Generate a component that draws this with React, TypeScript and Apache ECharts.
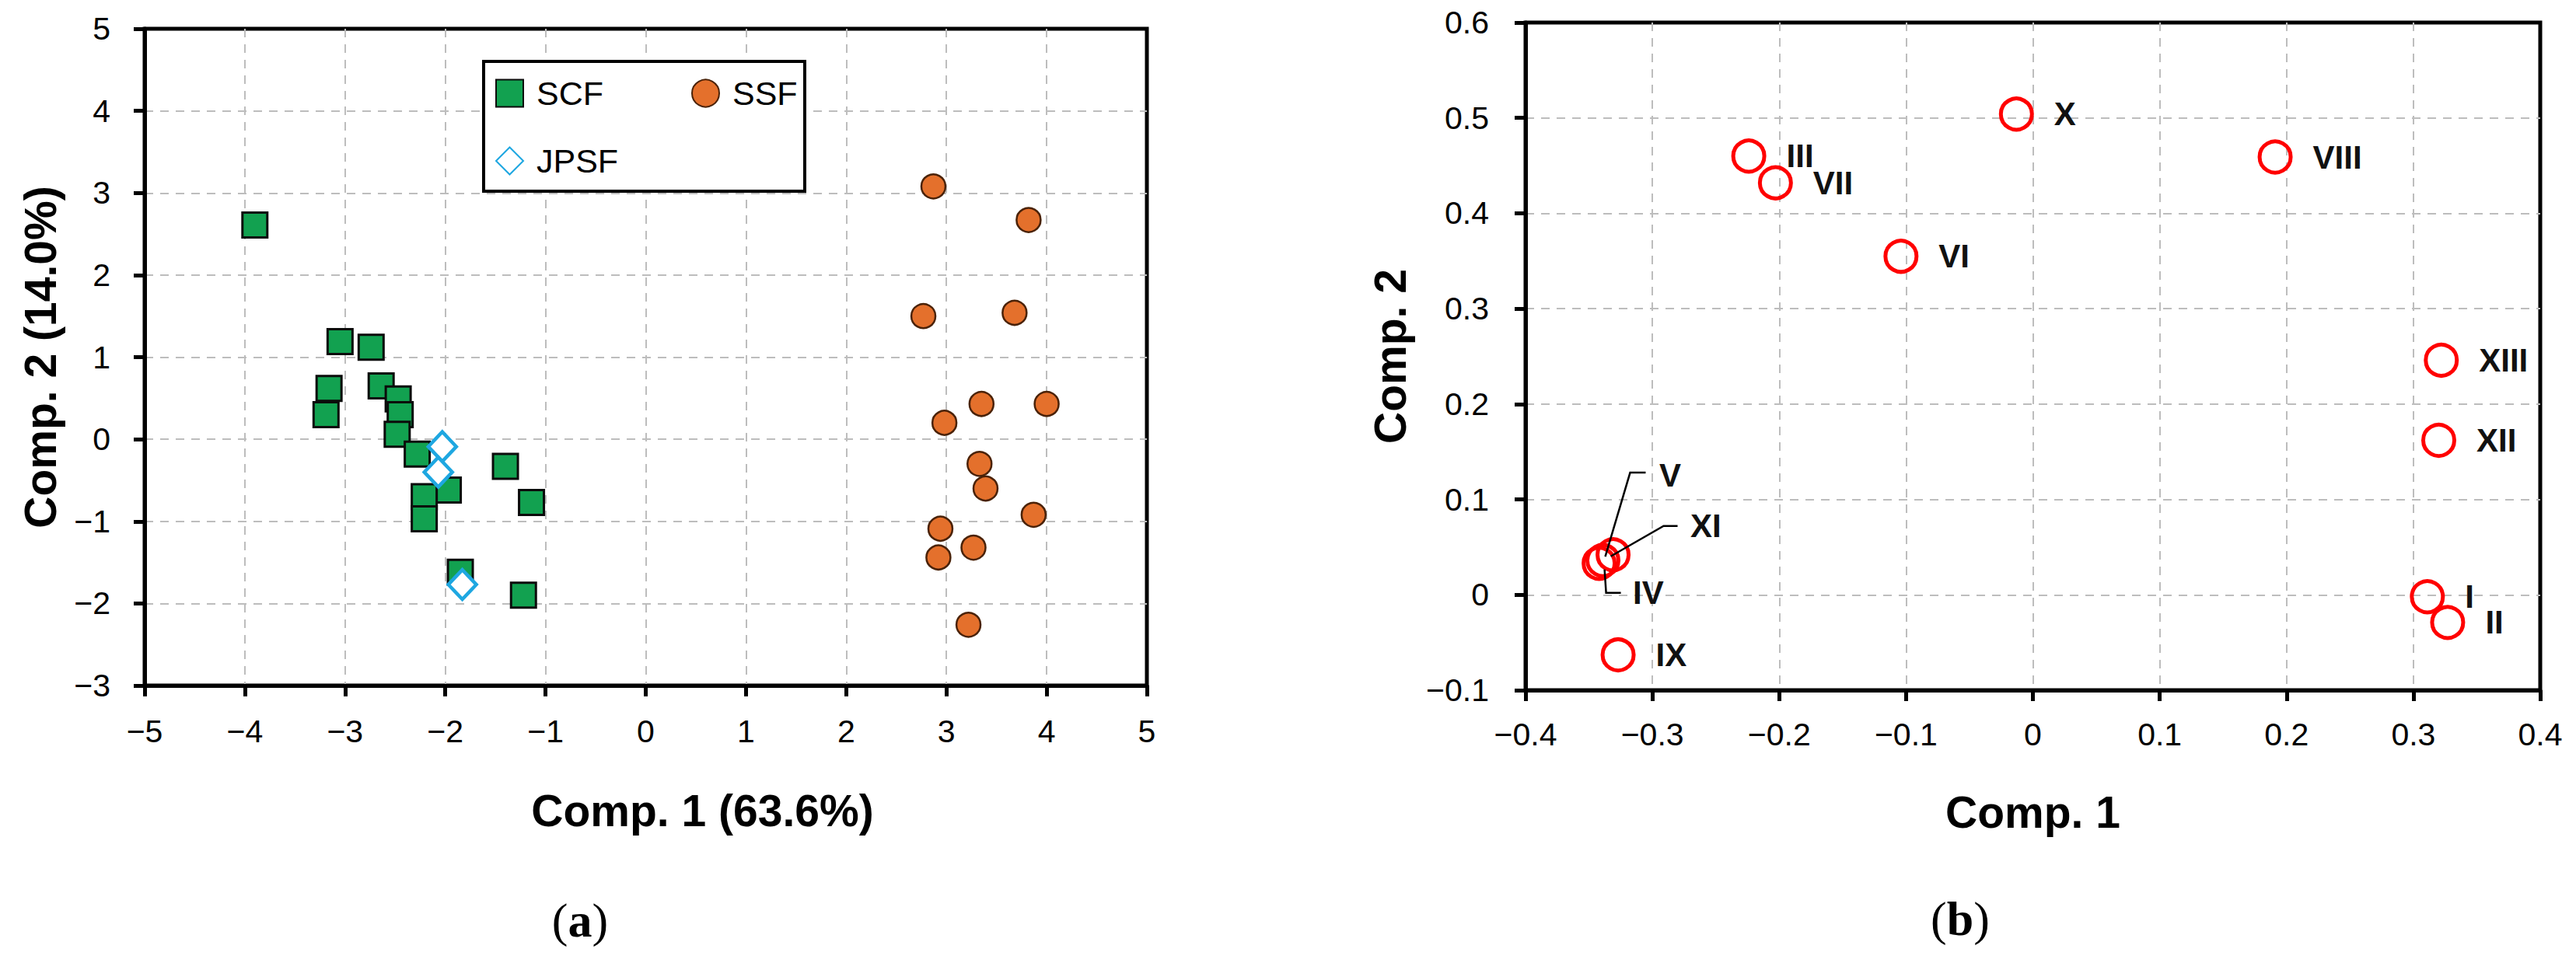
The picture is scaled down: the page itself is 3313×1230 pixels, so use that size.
import React, { useEffect, useRef } from "react";
import * as echarts from "echarts";

// ---------- (a) PCA scores ----------
const scfComp1 = [-3.9, -3.05, -2.74, -3.16, -3.19, -2.64, -2.47, -2.45, -2.48, -2.28, -1.97, -2.21, -2.21, -1.4, -1.14, -1.85, -1.22];
const scfComp2 = [2.61, 1.19, 1.12, 0.62, 0.3, 0.65, 0.49, 0.3, 0.06, -0.18, -0.62, -0.7, -0.97, -0.33, -0.77, -1.62, -1.9];

const ssfComp1 = [2.87, 3.82, 2.77, 3.68, 3.35, 4.0, 2.98, 3.33, 3.39, 3.87, 2.94, 3.27, 2.92, 3.22];
const ssfComp2 = [3.08, 2.67, 1.5, 1.54, 0.43, 0.43, 0.2, -0.3, -0.6, -0.92, -1.09, -1.32, -1.44, -2.26];

const jpsfComp1 = [-2.03, -2.07, -1.83];
const jpsfComp2 = [-0.09, -0.4, -1.77];

// ---------- (b) PCA loadings ----------
const pcbNames = ["I", "II", "III", "IV", "V", "VI", "VII", "VIII", "IX", "X", "XI", "XII", "XIII"];
const pcbComp1 = [0.311, 0.327, -0.224, -0.342, -0.339, -0.104, -0.203, 0.191, -0.327, -0.013, -0.331, 0.32, 0.322];
const pcbComp2 = [-0.002, -0.029, 0.46, 0.033, 0.036, 0.355, 0.432, 0.459, -0.063, 0.504, 0.042, 0.162, 0.246];

// tick values [min, max, interval]
const aXTicks = [-5, 5, 1];
const aYTicks = [-3, 5, 1];
const bXTicks = [-0.4, 0.4, 0.1];
const bYTicks = [-0.1, 0.6, 0.1];

// label displacement (px) for crowded labels in (b), relative to default "right" placement
const labelShift: Record<string, [number, number]> = {
  V: [24, -110],
  XI: [51, -37],
  IV: [-5, 38],
};
// leader line vertices (px) relative to the point
const leaderShape: Record<string, number[][]> = {
  V: [[3, -5], [35, -113], [55, -113]],
  XI: [[-3, 2], [65, -37], [83, -37]],
  IV: [[7, 8], [9, 38], [28, 38]],
};

const SANS = "'Liberation Sans', Arial, sans-serif";
const SERIF = "'Liberation Serif', 'Times New Roman', serif";

const zip = (a: number[], b: number[]) => a.map((v, i) => [v, b[i]]);

const fmt = (v: number) => {
  const r = Math.round(v * 10) / 10;
  return (r === 0 ? "0" : String(r)).replace("-", "\u2212");
};

function makeAxis(gridIndex: number, ticks: number[], margin: number, name: string, nameGap: number, namePad: number[]) {
  return {
    type: "value",
    gridIndex,
    min: ticks[0],
    max: ticks[1],
    interval: ticks[2],
    name,
    nameLocation: "middle",
    nameGap,
    nameTextStyle: { fontSize: 57, fontWeight: "bold", fontFamily: SANS, color: "#000", padding: namePad },
    axisLine: { show: true, onZero: false, lineStyle: { color: "#000", width: 5 } },
    axisTick: { show: true, inside: false, length: 14, lineStyle: { color: "#000", width: 5 } },
    axisLabel: { margin, fontSize: 41, fontFamily: SANS, color: "#000", formatter: fmt },
    splitLine: { show: true, showMinLine: false, showMaxLine: false, lineStyle: { color: "#BDBDBD", width: 2, type: [11, 9] } },
  };
}

export default function App() {
  const ref = useRef<HTMLDivElement>(null);
  useEffect(() => {
    if (!ref.current) return;
    const chart = echarts.init(ref.current, null, { renderer: "svg" });
    const option: any = {
      animation: false,
      backgroundColor: "#fff",
      grid: [
        { left: 186, top: 37, width: 1289, height: 845, show: true, borderColor: "#000", borderWidth: 5, backgroundColor: "transparent" },
        { left: 1962, top: 29, width: 1305, height: 859, show: true, borderColor: "#000", borderWidth: 5, backgroundColor: "transparent" },
      ],
      xAxis: [
        makeAxis(0, aXTicks, 38, "Comp. 1 (63.6%)", 132, [0, 0, 0, 146]),
        makeAxis(1, bXTicks, 36, "Comp. 1", 128, [0, 0, 0, 0]),
      ],
      yAxis: [
        makeAxis(0, aYTicks, 44, "Comp. 2 (14.0%)", 106, [0, 0, 0, 0]),
        makeAxis(1, bYTicks, 47, "Comp. 2", 146, [0, 0, 0, 0]),
      ],
      legend: {
        data: ["SCF", "SSF", "JPSF"],
        left: 637,
        top: 95,
        width: 500,
        orient: "horizontal",
        padding: 0,
        itemWidth: 35,
        itemHeight: 35,
        itemGap: 37,
        selectedMode: false,
        textStyle: { fontSize: 43, fontFamily: SANS, color: "#000", width: 162, lineHeight: 50, padding: [0, 0, 0, 12] },
        z: 10,
      },
      series: [
        {
          name: "SCF",
          type: "scatter",
          xAxisIndex: 0,
          yAxisIndex: 0,
          symbol: "rect",
          symbolSize: 32,
          itemStyle: { color: "#12A150", borderColor: "#0b0b0b", borderWidth: 3, opacity: 1 },
          data: zip(scfComp1, scfComp2),
        },
        {
          name: "SSF",
          type: "scatter",
          xAxisIndex: 0,
          yAxisIndex: 0,
          symbol: "circle",
          symbolSize: 31,
          itemStyle: { color: "#E4702C", borderColor: "#4a2208", borderWidth: 2.5, opacity: 1 },
          data: zip(ssfComp1, ssfComp2),
        },
        {
          name: "JPSF",
          type: "scatter",
          xAxisIndex: 0,
          yAxisIndex: 0,
          symbol: "diamond",
          symbolSize: [36, 38],
          itemStyle: { color: "#ffffff", borderColor: "#1EA7E1", borderWidth: 4.5, opacity: 1 },
          data: zip(jpsfComp1, jpsfComp2),
        },
        {
          name: "PCB",
          type: "scatter",
          xAxisIndex: 1,
          yAxisIndex: 1,
          symbol: "circle",
          symbolSize: 40,
          itemStyle: { color: "rgba(255,255,255,0)", borderColor: "#FF0000", borderWidth: 5, opacity: 1 },
          label: {
            show: true,
            position: "right",
            distance: 26,
            formatter: (p: any) => p.name,
            fontSize: 42,
            fontWeight: "bold",
            fontFamily: SANS,
            color: "#111",
          },
          labelLayout: (p: any) => {
            const s = labelShift[pcbNames[p.dataIndex]];
            return s ? { dx: s[0], dy: s[1] } : {};
          },
          data: pcbNames.map((n, i) => ({ name: n, value: [pcbComp1[i], pcbComp2[i]] })),
        },
      ],
      graphic: [
        {
          type: "rect",
          id: "legendBox",
          shape: { x: 622, y: 79, width: 413, height: 167 },
          style: { fill: "#fff", stroke: "#000", lineWidth: 4 },
          z: 5,
        },
        {
          type: "text",
          id: "capA",
          x: 746,
          y: 1184,
          style: {
            text: "{p|(}{b|a}{p|)}",
            rich: {
              p: { fontSize: 62, fontFamily: SERIF, fill: "#000" },
              b: { fontSize: 62, fontFamily: SERIF, fontWeight: "bold", fill: "#000" },
            },
            align: "center",
            verticalAlign: "middle",
          },
        },
        {
          type: "text",
          id: "capB",
          x: 2521,
          y: 1182,
          style: {
            text: "{p|(}{b|b}{p|)}",
            rich: {
              p: { fontSize: 62, fontFamily: SERIF, fill: "#000" },
              b: { fontSize: 62, fontFamily: SERIF, fontWeight: "bold", fill: "#000" },
            },
            align: "center",
            verticalAlign: "middle",
          },
        },
      ],
    };
    chart.setOption(option);

    // leader lines for crowded labels in (b), anchored on converted data points
    const leaders: any[] = [];
    pcbNames.forEach((n, i) => {
      const shape = leaderShape[n];
      if (!shape) return;
      const p = chart.convertToPixel({ seriesIndex: 3 }, [pcbComp1[i], pcbComp2[i]]) as number[];
      leaders.push({
        type: "polyline",
        id: "leader" + n,
        shape: { points: shape.map((d) => [p[0] + d[0], p[1] + d[1]]) },
        style: { stroke: "#000", lineWidth: 2.5, fill: null },
        z: 10,
      });
    });
    chart.setOption({ graphic: leaders });

    return () => chart.dispose();
  }, []);
  return <div ref={ref} style={{ position: "fixed", left: 0, top: 0, width: 3313, height: 1230 }} />;
}
